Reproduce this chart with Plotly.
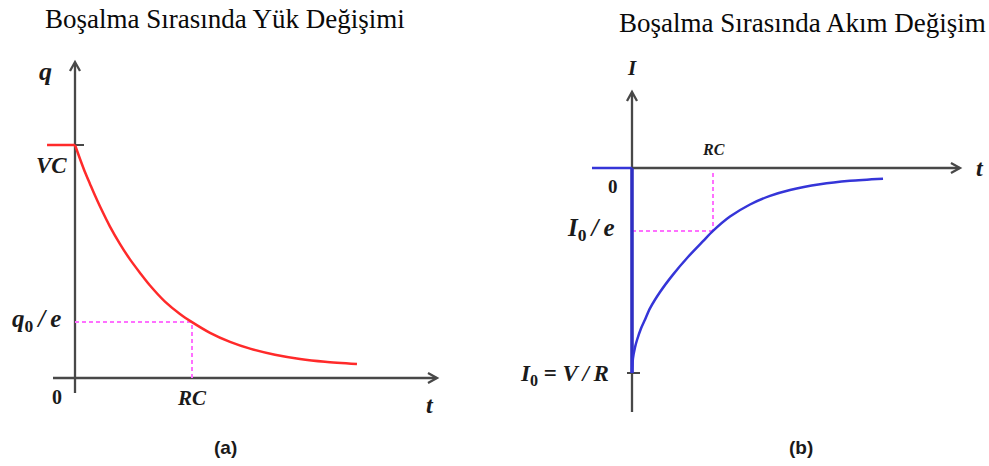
import plotly.graph_objects as go

# ---- (a) charge during discharge: t in units of RC, q as a fraction of VC ----
q_t = [0.0, 0.043, 0.085, 0.128, 0.171, 0.214, 0.299, 0.385, 0.470, 0.556, 0.641,
       0.769, 0.897, 1.0, 1.154, 1.325, 1.496, 1.709, 1.923, 2.137, 2.410]
q_val = [1.0, 0.940, 0.884, 0.833, 0.783, 0.736, 0.650, 0.575, 0.509, 0.451, 0.397,
         0.328, 0.275, 0.240, 0.194, 0.155, 0.126, 0.100, 0.082, 0.070, 0.060]
q_before_t = [-0.239, 0.0]
q_before = [1.0, 1.0]
q_rc = 0.240  # level marked q0/e

# ---- (b) current during discharge: t in units of RC, I as a fraction of I0 ----
i_t = [0.0, 0.012, 0.037, 0.062, 0.111, 0.160, 0.222, 0.346, 0.506, 0.691, 0.877,
       1.0, 1.210, 1.457, 1.704, 1.951, 2.321, 2.691, 3.099]
i_val = [-1.0, -0.928, -0.875, -0.839, -0.783, -0.740, -0.685, -0.605, -0.520, -0.434,
         -0.357, -0.307, -0.237, -0.178, -0.136, -0.107, -0.079, -0.062, -0.052]
i_step_t = [-0.494, 0.0]
i_step = [0.0, 0.0]
i_jump_t = [0.0, 0.0]
i_jump = [0.0, -1.0]
i_rc = -0.307  # level marked I0/e

titles = ["Boşalma Sırasında Yük Değişimi", "Boşalma Sırasında Akım Değişim"]
panel_tags = ["(a)", "(b)"]

W, H = 989, 466
AXIS = "#484848"
PINK = "#ff70ff"
RED = "#ff2a2a"
BLUE = "#3535d8"
MATH = "Liberation Serif"
INK = "#1a1a1a"
TS = "\u2009"  # thin space

fig = go.Figure()

# curves
fig.add_trace(go.Scatter(x=q_before_t, y=q_before, mode="lines",
                         line=dict(color=RED, width=2.5), xaxis="x", yaxis="y"))
fig.add_trace(go.Scatter(x=q_t, y=q_val, mode="lines",
                         line=dict(color=RED, width=2.5, shape="spline", smoothing=0.8),
                         xaxis="x", yaxis="y"))
fig.add_trace(go.Scatter(x=i_step_t, y=i_step, mode="lines",
                         line=dict(color=BLUE, width=2.5), xaxis="x2", yaxis="y2"))
fig.add_trace(go.Scatter(x=i_jump_t, y=i_jump, mode="lines",
                         line=dict(color="#2f2fc4", width=3.5), xaxis="x2", yaxis="y2"))
fig.add_trace(go.Scatter(x=i_t, y=i_val, mode="lines",
                         line=dict(color=BLUE, width=2.5, shape="spline", smoothing=0.8),
                         xaxis="x2", yaxis="y2"))

shapes = []
dash = dict(color=PINK, width=2, dash="4px,3px")
axis_line = dict(color=AXIS, width=2.3)


def seg(xr, yr, x0, y0, x1, y1, line, layer="below"):
    shapes.append(dict(type="line", xref=xr, yref=yr, x0=x0, x1=x1, y0=y0, y1=y1,
                       line=line, layer=layer))


def head(xr, yr, x, y, direction):
    # open chevron arrowhead, sized in pixels around the axis tip
    path = "M -5,-9 L 0,0 L 5,-9" if direction == "up" else "M -9,5 L 0,0 L -9,-5"
    shapes.append(dict(type="path", xref=xr, yref=yr, xsizemode="pixel", ysizemode="pixel",
                       xanchor=x, yanchor=y, path=path, line=axis_line))


# (a) axes, guides and VC tick
seg("x", "y", 0, -0.064, 0, 1.352, axis_line)
seg("x", "y", -0.188, 0, 3.088, 0, axis_line)
head("x", "y", 0, 1.356, "up")
head("x", "y", 3.094, 0, "right")
seg("x", "y", 0, q_rc, 1, q_rc, dash)
seg("x", "y", 1, 0, 1, q_rc, dash)
seg("x", "y", 0, 1, 0.077, 1, dict(color=AXIS, width=2))

# (b) axes, guides and I0 tick
seg("x2", "y2", 0, -1.19, 0, 0.366, axis_line)
seg("x2", "y2", 0, 0, 4.043, 0, axis_line)
head("x2", "y2", 0, 0.371, "up")
head("x2", "y2", 4.049, 0, "right")
seg("x2", "y2", 0, i_rc, 1, i_rc, dash)
seg("x2", "y2", 1, -0.024, 1, i_rc, dash)
seg("x2", "y2", -0.062, -1, 0.099, -1, dict(color=AXIS, width=2))

ann = []


def label(xr, yr, x, y, text, size):
    ann.append(dict(xref=xr, yref=yr, x=x, y=y, text=text, showarrow=False,
                    font=dict(family=MATH, size=size, color=INK),
                    xanchor="center", yanchor="middle"))


label("x", "y", -0.256, 1.315, "<b><i>q</i></b>", 26)
label("x", "y", -0.205, 0.914, "<b><i>VC</i></b>", 23)
label("x", "y", -0.329, 0.245, "<b><i>q</i><sub>0</sub>" + TS + "<i>/</i>" + TS + "<i>e</i></b>", 25)
label("x", "y", -0.154, -0.082, "<b>0</b>", 20)
label("x", "y", 1.0, -0.086, "<b><i>RC</i></b>", 21)
label("x", "y", 3.034, -0.116, "<b><i>t</i></b>", 24)

label("x2", "y2", 0.0, 0.488, "<b><i>I</i></b>", 21)
label("x2", "y2", 1.01, 0.088, "<b><i>RC</i></b>", 16)
label("x2", "y2", -0.235, -0.088, "<b>0</b>", 19)
label("x2", "y2", -0.506, -0.298, "<b><i>I</i><sub>0</sub>" + TS + "<i>/</i>" + TS + "<i>e</i></b>", 25)
label("x2", "y2", -0.833, -1.01,
      "<b><i>I</i><sub>0</sub> = <i>V</i>" + TS + "<i>/</i>" + TS + "<i>R</i></b>", 23)
label("x2", "y2", 4.296, 0.0, "<b><i>t</i></b>", 24)

# panel titles and tags
for cx, cy, t in [(224.5, 19, titles[0]), (802, 23, titles[1])]:
    ann.append(dict(xref="paper", yref="paper", x=cx / W, y=1 - cy / H, text=t,
                    showarrow=False, xanchor="center", yanchor="middle",
                    font=dict(family="Liberation Serif", size=27, color="#0a0a0a")))
for cx, t in [(225, panel_tags[0]), (801, panel_tags[1])]:
    ann.append(dict(xref="paper", yref="paper", x=cx / W, y=1 - 447 / H, text="<b>" + t + "</b>",
                    showarrow=False, xanchor="center", yanchor="middle",
                    font=dict(family="Liberation Sans", size=19, color=INK)))

split = 494 / W
fig.update_layout(
    width=W, height=H, margin=dict(l=0, r=0, t=0, b=0),
    paper_bgcolor="white", plot_bgcolor="white", showlegend=False,
    xaxis=dict(domain=[0, split], range=[-75 / 117, (494 - 75) / 117], visible=False, fixedrange=True),
    yaxis=dict(domain=[0, 1], range=[-88 / 233, 378 / 233], visible=False, fixedrange=True),
    xaxis2=dict(domain=[split, 1], range=[(494 - 632) / 81, (989 - 632) / 81], visible=False,
                anchor="y2", fixedrange=True),
    yaxis2=dict(domain=[0, 1], range=[-298 / 205, 168 / 205], visible=False, anchor="x2",
                fixedrange=True),
    shapes=shapes, annotations=ann,
)

fig.write_html("out.html")
